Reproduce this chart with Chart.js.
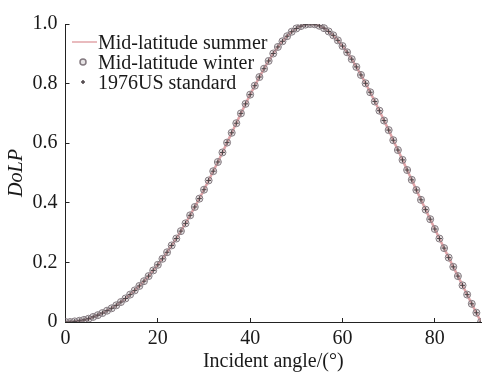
<!DOCTYPE html>
<html>
<head>
  <meta charset="utf-8">
  <title>DoLP vs incident angle</title>
  <script src="https://cdn.jsdelivr.net/npm/chart.js"></script>
  <style>
    html, body { margin: 0; padding: 0; background: #fff; }
    #wrap { width: 487px; height: 374px; }
  </style>
</head>
<body>
  <div id="wrap"><canvas id="dolpChart"></canvas></div>
  <script>
    // incident angle (deg), one sample per degree
    const angles = [
      0, 1, 2, 3, 4, 5, 6, 7, 8, 9, 10, 11, 12, 13, 14, 15, 16, 17, 18, 19,
      20, 21, 22, 23, 24, 25, 26, 27, 28, 29, 30, 31, 32, 33, 34, 35, 36, 37, 38, 39,
      40, 41, 42, 43, 44, 45, 46, 47, 48, 49, 50, 51, 52, 53, 54, 55, 56, 57, 58, 59,
      60, 61, 62, 63, 64, 65, 66, 67, 68, 69, 70, 71, 72, 73, 74, 75, 76, 77, 78, 79,
      80, 81, 82, 83, 84, 85, 86, 87, 88, 89, 90
    ];

    // DoLP (the three atmospheres overlap)
    const summerDoLP = [
      0.000, 0.000, 0.002, 0.004, 0.007, 0.011, 0.017, 0.023, 0.030, 0.038,
      0.046, 0.056, 0.067, 0.079, 0.092, 0.106, 0.121, 0.137, 0.154, 0.173,
      0.192, 0.212, 0.234, 0.257, 0.280, 0.305, 0.331, 0.358, 0.386, 0.414,
      0.444, 0.475, 0.506, 0.537, 0.569, 0.602, 0.635, 0.667, 0.700, 0.732,
      0.763, 0.793, 0.822, 0.850, 0.876, 0.901, 0.923, 0.942, 0.959, 0.974,
      0.985, 0.993, 0.998, 1.000, 0.999, 0.994, 0.986, 0.975, 0.962, 0.945,
      0.926, 0.905, 0.882, 0.856, 0.829, 0.801, 0.771, 0.740, 0.709, 0.676,
      0.644, 0.610, 0.577, 0.544, 0.510, 0.477, 0.443, 0.410, 0.377, 0.345,
      0.312, 0.280, 0.248, 0.216, 0.185, 0.154, 0.123, 0.092, 0.061, 0.031,
      0.000
    ];
    const winterDoLP = [
      0.000, 0.000, 0.002, 0.004, 0.007, 0.011, 0.017, 0.023, 0.030, 0.038,
      0.046, 0.056, 0.067, 0.079, 0.092, 0.106, 0.121, 0.137, 0.154, 0.173,
      0.192, 0.212, 0.234, 0.257, 0.280, 0.305, 0.331, 0.358, 0.386, 0.414,
      0.444, 0.475, 0.506, 0.537, 0.569, 0.602, 0.635, 0.667, 0.700, 0.732,
      0.763, 0.793, 0.822, 0.850, 0.876, 0.901, 0.923, 0.942, 0.959, 0.974,
      0.985, 0.993, 0.998, 1.000, 0.999, 0.994, 0.986, 0.975, 0.962, 0.945,
      0.926, 0.905, 0.882, 0.856, 0.829, 0.801, 0.771, 0.740, 0.709, 0.676,
      0.644, 0.610, 0.577, 0.544, 0.510, 0.477, 0.443, 0.410, 0.377, 0.345,
      0.312, 0.280, 0.248, 0.216, 0.185, 0.154, 0.123, 0.092, 0.061, 0.031,
      0.000
    ];
    const usStandardDoLP = [
      0.000, 0.000, 0.002, 0.004, 0.007, 0.011, 0.017, 0.023, 0.030, 0.038,
      0.046, 0.056, 0.067, 0.079, 0.092, 0.106, 0.121, 0.137, 0.154, 0.173,
      0.192, 0.212, 0.234, 0.257, 0.280, 0.305, 0.331, 0.358, 0.386, 0.414,
      0.444, 0.475, 0.506, 0.537, 0.569, 0.602, 0.635, 0.667, 0.700, 0.732,
      0.763, 0.793, 0.822, 0.850, 0.876, 0.901, 0.923, 0.942, 0.959, 0.974,
      0.985, 0.993, 0.998, 1.000, 0.999, 0.994, 0.986, 0.975, 0.962, 0.945,
      0.926, 0.905, 0.882, 0.856, 0.829, 0.801, 0.771, 0.740, 0.709, 0.676,
      0.644, 0.610, 0.577, 0.544, 0.510, 0.477, 0.443, 0.410, 0.377, 0.345,
      0.312, 0.280, 0.248, 0.216, 0.185, 0.154, 0.123, 0.092, 0.061, 0.031,
      0.000
    ];

    const seriesLabels = ['Mid-latitude summer', 'Mid-latitude winter', '1976US standard'];
    const xTicks = [0, 20, 40, 60, 80];
    const yTicks = [0, 0.2, 0.4, 0.6, 0.8, 1.0];

    const toPoints = values => values.map((v, i) => ({ x: angles[i], y: v }));

    Chart.defaults.font.family = "'Liberation Serif', 'Times New Roman', serif";
    Chart.defaults.font.size = 20;
    Chart.defaults.color = '#1a1a1a';

    // legend sits inside the plot, top left, with no frame
    const insideLegend = {
      id: 'insideLegend',
      afterDraw(chart) {
        const ctx = chart.ctx;
        const area = chart.chartArea;
        const markX = area.left + 17.5;
        const textX = area.left + 32.5;
        ctx.save();
        ctx.font = "20px 'Liberation Serif', 'Times New Roman', serif";
        ctx.fillStyle = '#1a1a1a';
        ctx.textBaseline = 'alphabetic';
        chart.data.datasets.forEach((ds, i) => {
          const base = area.top + 25 + i * 20;
          const my = base - 7;
          if (ds.showLine !== false) {
            ctx.strokeStyle = ds.borderColor;
            ctx.lineWidth = 1.5;
            ctx.beginPath();
            ctx.moveTo(area.left + 6.5, my);
            ctx.lineTo(area.left + 31.5, my);
            ctx.stroke();
          } else {
            ctx.strokeStyle = ds.borderColor;
            ctx.fillStyle = ds.backgroundColor;
            Chart.helpers.drawPoint(ctx, {
              pointStyle: ds.pointStyle,
              radius: ds.pointRadius - 0.5,
              borderWidth: ds.borderWidth
            }, markX, my);
            ctx.fillStyle = '#1a1a1a';
          }
          ctx.fillText(ds.label, textX, base);
        });
        ctx.restore();
      }
    };

    const ctx = document.getElementById('dolpChart').getContext('2d');
    new Chart(ctx, {
      type: 'scatter',
      data: {
        datasets: [
          {
            label: seriesLabels[0],
            data: toPoints(summerDoLP),
            showLine: true,
            borderColor: '#e2a4a8',
            borderWidth: 2.5,
            pointRadius: 0,
            order: 3
          },
          {
            label: seriesLabels[1],
            data: toPoints(winterDoLP),
            showLine: false,
            pointStyle: 'circle',
            pointRadius: 3.5,
            borderWidth: 1,
            borderColor: '#847a80',
            backgroundColor: 'rgba(160,150,155,0.25)',
            order: 2
          },
          {
            label: seriesLabels[2],
            data: toPoints(usStandardDoLP),
            showLine: false,
            pointStyle: 'cross',
            pointRadius: 2.5,
            borderWidth: 1,
            borderColor: '#4d4649',
            backgroundColor: 'rgba(0,0,0,0)',
            order: 1
          }
        ]
      },
      options: {
        responsive: true,
        maintainAspectRatio: false,
        animation: false,
        layout: { padding: { left: 0, right: 6, top: 20, bottom: 0 } },
        plugins: {
          legend: { display: false },
          tooltip: { enabled: false }
        },
        scales: {
          x: {
            type: 'linear',
            min: 0,
            max: 90,
            afterBuildTicks: axis => { axis.ticks = xTicks.map(v => ({ value: v })); },
            afterFit: axis => { axis.height = 52; },
            ticks: { padding: 9, color: '#1a1a1a' },
            grid: { drawOnChartArea: false, tickLength: -4, color: '#222' },
            border: { color: '#222', width: 1 },
            title: {
              display: true,
              text: 'Incident angle/(°)',
              color: '#1a1a1a',
              padding: { top: 0, bottom: 0 }
            }
          },
          y: {
            min: 0,
            max: 1,
            afterBuildTicks: axis => { axis.ticks = yTicks.map(v => ({ value: v })); },
            afterFit: axis => { axis.width = 65.5; },
            ticks: {
              padding: 12,
              color: '#1a1a1a',
              callback: v => (v === 0 ? '0' : v.toFixed(1))
            },
            grid: { drawOnChartArea: false, tickLength: -4, color: '#222' },
            border: { color: '#222', width: 1 },
            title: {
              display: true,
              text: 'DoLP',
              color: '#1a1a1a',
              font: { style: 'italic' },
              padding: { top: 5, bottom: 0 }
            }
          }
        }
      },
      plugins: [insideLegend]
    });
  </script>
</body>
</html>
